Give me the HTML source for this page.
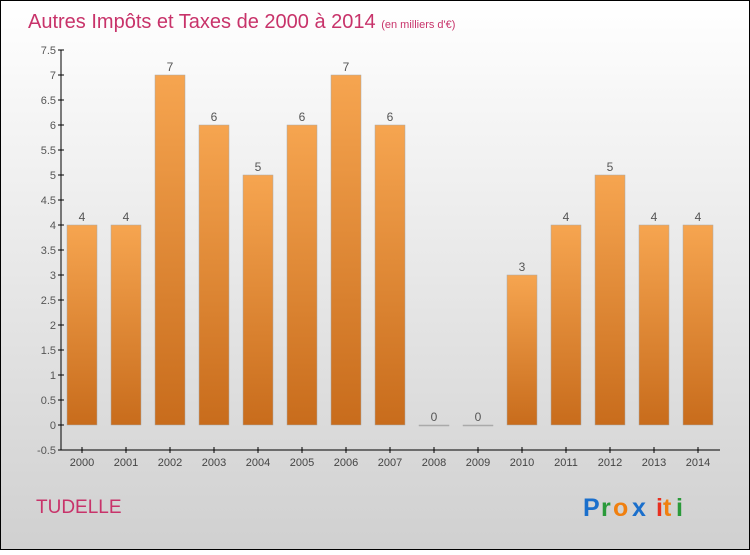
<!DOCTYPE html>
<html><head><meta charset="utf-8"><style>
body{margin:0;width:750px;height:550px;overflow:hidden}
svg text{font-family:"Liberation Sans",sans-serif}
</style></head><body>
<svg width="750" height="550" xmlns="http://www.w3.org/2000/svg">
<defs>
<linearGradient id="bg" x1="0" y1="0" x2="0" y2="1"><stop offset="0" stop-color="#ffffff"/><stop offset="1" stop-color="#d0d0d0"/></linearGradient>
<linearGradient id="bar" x1="0" y1="0" x2="0" y2="1"><stop offset="0" stop-color="#f6a550"/><stop offset="1" stop-color="#c86c1c"/></linearGradient>
</defs>
<rect x="0.5" y="0.5" width="749" height="549" fill="url(#bg)" stroke="#000"/>
<text x="28" y="28" font-size="20" fill="#c8336a">Autres Impôts et Taxes de 2000 à 2014 <tspan font-size="11">(en milliers d'€)</tspan></text>
<g id="axes"></g>
<g id="bars"></g>
<text x="36" y="513" font-size="19" fill="#c8336a">TUDELLE</text>
<g font-size="25" font-weight="bold">
<text x="583" y="516" fill="#1a6fcc">P</text><text x="601" y="516" fill="#2a9a3a">r</text><text x="613" y="516" fill="#f08010">o</text><text x="632" y="516" fill="#1a6fcc">x</text><text x="656" y="516" fill="#e83020">i</text><text x="663" y="516" fill="#f08010">t</text><text x="676" y="516" fill="#2a9a3a">i</text>
</g>
</svg>
<script>
const years=["2000","2001","2002","2003","2004","2005","2006","2007","2008","2009","2010","2011","2012","2013","2014"];
const values=[4,4,7,6,5,6,7,6,0,0,3,4,5,4,4];
const yTicks=[-0.5,0,0.5,1,1.5,2,2.5,3,3.5,4,4.5,5,5.5,6,6.5,7,7.5];
const NS="http://www.w3.org/2000/svg";
const y=v=>425-v*50, x=i=>82+i*44;
function mk(t,a,p){const e=document.createElementNS(NS,t);for(const k in a)e.setAttribute(k,a[k]);p.appendChild(e);return e;}
const ax=document.getElementById('axes'), bg=document.getElementById('bars');
const yl=mk('line',{x1:61,y1:50,x2:61,y2:450,stroke:'#000'},ax);


const xl=mk('line',{x1:61,y1:450,x2:720,y2:450,stroke:'#000'},ax);


yTicks.forEach(v=>{mk('line',{x1:58,y1:y(v),x2:64,y2:y(v),stroke:'#000'},ax);
const t=mk('text',{x:56,y:y(v)+4,'text-anchor':'end','font-size':11,fill:'#555'},ax);t.textContent=v;

});
years.forEach((yr,i)=>{mk('line',{x1:x(i),y1:447,x2:x(i),y2:453,stroke:'#000'},ax);
const t=mk('text',{x:x(i),y:466,'text-anchor':'middle','font-size':11,fill:'#444'},ax);t.textContent=yr;


const v=values[i];const h=Math.max(1,v*50);
const r=mk('rect',{x:x(i)-15,y:y(v),width:30,height:h,fill:v>0?'url(#bar)':'#aaa',stroke:'#aaa','stroke-width':0.5},bg);


const l=mk('text',{x:x(i),y:y(v)-4,'text-anchor':'middle','font-size':12,fill:'#555'},bg);l.textContent=v;

});
</script>
</body></html>
